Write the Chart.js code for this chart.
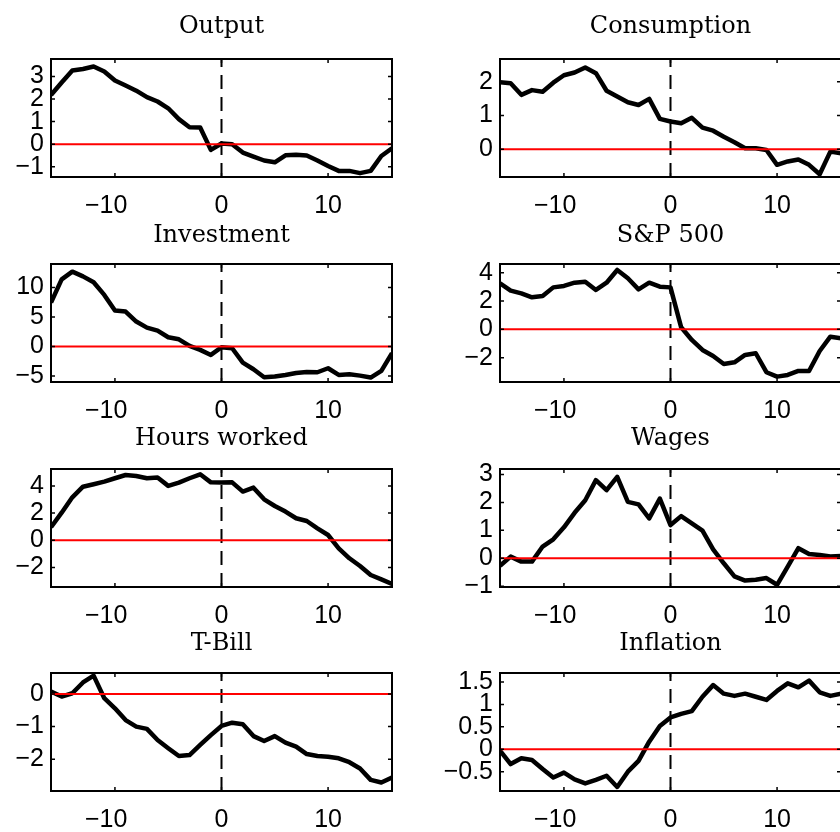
<!DOCTYPE html>
<html>
<head>
<meta charset="utf-8">
<script src="https://cdn.jsdelivr.net/npm/chart.js@4.4.1/dist/chart.umd.min.js"></script>
<style>
  body { margin: 0; width: 840px; height: 832px; overflow: hidden; background: #fff; position: relative; }
  canvas { position: absolute; }
</style>
</head>
<body>
<script>
// horizon (quarters) and x ticks
const lags = [-16, -15, -14, -13, -12, -11, -10, -9, -8, -7, -6, -5, -4, -3, -2, -1, 0,
  1, 2, 3, 4, 5, 6, 7, 8, 9, 10, 11, 12, 13, 14, 15, 16];
const xTicks = [-10, 0, 10];

// responses
const output = [2.18, 2.73, 3.26, 3.33, 3.44, 3.22, 2.82, 2.60, 2.37, 2.08, 1.89, 1.59, 1.11, 0.75, 0.74, -0.25, 0.03,
  0.0, -0.37, -0.55, -0.72, -0.80, -0.49, -0.47, -0.50, -0.72, -0.96, -1.18, -1.18, -1.28, -1.18, -0.52, -0.18];
const consumption = [1.98, 1.95, 1.61, 1.75, 1.70, 1.97, 2.19, 2.27, 2.42, 2.25, 1.73, 1.56, 1.39, 1.31, 1.49, 0.90, 0.82,
  0.77, 0.93, 0.64, 0.55, 0.37, 0.21, 0.03, 0.03, -0.02, -0.46, -0.36, -0.30, -0.46, -0.74, -0.07, -0.12];
const investment = [7.46, 11.4, 12.7, 11.9, 10.9, 8.76, 6.10, 5.93, 4.24, 3.22, 2.71, 1.58, 1.24, 0.11, -0.56, -1.41, -0.11,
  -0.28, -2.71, -3.84, -5.2, -5.08, -4.80, -4.46, -4.29, -4.35, -3.67, -4.80, -4.69, -4.92, -5.25, -4.12, -1.13];
const sp500 = [3.25, 2.73, 2.54, 2.26, 2.35, 2.96, 3.06, 3.29, 3.36, 2.78, 3.29, 4.19, 3.60, 2.82, 3.29, 3.01, 2.96,
  0.14, -0.75, -1.46, -1.88, -2.45, -2.33, -1.81, -1.69, -3.03, -3.34, -3.22, -2.94, -2.94, -1.53, -0.52, -0.64];
const hours = [0.96, 2.03, 3.16, 3.94, 4.12, 4.31, 4.56, 4.80, 4.73, 4.56, 4.61, 4.00, 4.24, 4.56, 4.85, 4.26, 4.24,
  4.26, 3.58, 3.87, 3.01, 2.52, 2.11, 1.62, 1.42, 0.88, 0.39, -0.59, -1.32, -1.89, -2.55, -2.87, -3.21];
const wages = [-0.27, 0.06, -0.12, -0.12, 0.42, 0.68, 1.11, 1.63, 2.08, 2.80, 2.44, 2.92, 2.02, 1.93, 1.43, 2.14, 1.19,
  1.51, 1.25, 0.99, 0.32, -0.18, -0.65, -0.80, -0.77, -0.71, -0.95, -0.30, 0.36, 0.15, 0.12, 0.06, 0.08];
const tbill = [0.07, -0.08, 0.02, 0.35, 0.56, -0.13, -0.44, -0.80, -1.00, -1.07, -1.41, -1.66, -1.90, -1.87, -1.56, -1.26, -0.98,
  -0.88, -0.93, -1.29, -1.44, -1.29, -1.49, -1.61, -1.84, -1.90, -1.92, -1.97, -2.09, -2.28, -2.63, -2.71, -2.56];
const inflation = [-0.03, -0.33, -0.20, -0.24, -0.44, -0.63, -0.52, -0.67, -0.76, -0.68, -0.59, -0.84, -0.50, -0.26, 0.17, 0.52, 0.71,
  0.79, 0.85, 1.17, 1.43, 1.24, 1.19, 1.24, 1.17, 1.10, 1.30, 1.47, 1.38, 1.53, 1.27, 1.19, 1.24];

// y ranges and y ticks per panel
const outputRange = [-1.45, 3.77],      outputTicks = [-1, 0, 1, 2, 3];
const consumptionRange = [-0.82, 2.67], consumptionTicks = [0, 1, 2];
const investmentRange = [-6, 14],       investmentTicks = [-5, 0, 5, 10];
const sp500Range = [-3.72, 4.61],       sp500Ticks = [-2, 0, 2, 4];
const hoursRange = [-3.43, 5.24],       hoursTicks = [-2, 0, 2, 4];
const wagesRange = [-1.03, 3.2],        wagesTicks = [-1, 0, 1, 2, 3];
const tbillRange = [-2.97, 0.64],       tbillTicks = [-2, -1, 0];
const inflationRange = [-0.93, 1.70],   inflationTicks = [-0.5, 0, 0.5, 1, 1.5];

const panels = [
  { title: 'Output', values: output, range: outputRange, ticks: outputTicks },
  { title: 'Consumption', values: consumption, range: consumptionRange, ticks: consumptionTicks },
  { title: 'Investment', values: investment, range: investmentRange, ticks: investmentTicks },
  { title: 'S&P 500', values: sp500, range: sp500Range, ticks: sp500Ticks },
  { title: 'Hours worked', values: hours, range: hoursRange, ticks: hoursTicks },
  { title: 'Wages', values: wages, range: wagesRange, ticks: wagesTicks },
  { title: 'T-Bill', values: tbill, range: tbillRange, ticks: tbillTicks },
  { title: 'Inflation', values: inflation, range: inflationRange, ticks: inflationTicks }
];

// layout (pixels)
const rowTops = [59, 264, 469, 673];
const titleGap = [26, 22, 24, 23];
const cols = [
  { left: 0, width: 420, axisW: 51, padRight: 28 },
  { left: 420, width: 424, axisW: 80, padRight: 3 }
];
const TITLE_SPACE = 59, PLOT_H = 118, XAXIS_H = 45;

const tickFont = { family: '"Liberation Sans", Arial, sans-serif', size: 25 };
const fmt = v => String(v).replace('-', '\u2212');
// matlab hangs the minus sign to the left of the centred digits
const fmtX = v => v < 0 ? fmt(v) + '\u2002\u2009' : fmt(v);

// box + inward ticks + title, matlab style
const frame = {
  id: 'frame',
  afterDatasetsDraw(chart, args, opts) {
    const { ctx, chartArea: a, scales } = chart;
    ctx.save();
    ctx.strokeStyle = '#000';
    ctx.lineWidth = 2;
    ctx.strokeRect(a.left, a.top, a.right - a.left, a.bottom - a.top);
    ctx.lineWidth = 1.5;
    ctx.beginPath();
    scales.x.ticks.forEach(t => {
      const px = scales.x.getPixelForValue(t.value);
      ctx.moveTo(px, a.bottom); ctx.lineTo(px, a.bottom - 4);
      ctx.moveTo(px, a.top); ctx.lineTo(px, a.top + 4);
    });
    scales.y.ticks.forEach(t => {
      const py = scales.y.getPixelForValue(t.value);
      ctx.moveTo(a.left, py); ctx.lineTo(a.left + 4, py);
      ctx.moveTo(a.right, py); ctx.lineTo(a.right - 4, py);
    });
    ctx.stroke();
    ctx.fillStyle = '#000';
    ctx.font = '24px "DejaVu Serif", serif';
    ctx.textAlign = 'center';
    ctx.textBaseline = 'alphabetic';
    ctx.fillText(opts.text, (a.left + a.right) / 2, a.top - opts.gap);
    ctx.restore();
  }
};

panels.forEach((p, i) => {
  const col = cols[i % 2];
  const row = Math.floor(i / 2);
  const top = rowTops[row] - TITLE_SPACE;
  const canvas = document.createElement('canvas');
  canvas.width = col.width;
  canvas.height = TITLE_SPACE + PLOT_H + XAXIS_H;
  canvas.style.left = col.left + 'px';
  canvas.style.top = top + 'px';
  document.body.appendChild(canvas);

  new Chart(canvas, {
    type: 'line',
    data: {
      datasets: [
        { // zero line
          data: [{ x: lags[0], y: 0 }, { x: lags[lags.length - 1], y: 0 }],
          borderColor: '#ff0000', borderWidth: 2, pointRadius: 0
        },
        {
          data: lags.map((x, k) => ({ x, y: p.values[k] })),
          borderColor: '#000', borderWidth: 4.5, pointRadius: 0,
          tension: 0, borderJoinStyle: 'round'
        },
        { // shock date
          data: [{ x: 0, y: p.range[0] }, { x: 0, y: p.range[1] }],
          borderColor: '#000', borderWidth: 2, borderDash: [14, 8], pointRadius: 0
        }
      ]
    },
    options: {
      responsive: false,
      animation: false,
      devicePixelRatio: 1,
      layout: { padding: { top: TITLE_SPACE, right: col.padRight, left: 0, bottom: 0 } },
      plugins: {
        legend: { display: false },
        tooltip: { enabled: false },
        frame: { text: p.title, gap: titleGap[row] }
      },
      scales: {
        x: {
          type: 'linear', min: lags[0], max: lags[lags.length - 1],
          grid: { display: false, drawTicks: false },
          border: { display: false },
          ticks: { font: tickFont, color: '#000', padding: 14, autoSkip: false, maxRotation: 0, callback: fmtX },
          afterBuildTicks: s => { s.ticks = xTicks.map(v => ({ value: v })); },
          afterFit: s => { s.height = XAXIS_H; }
        },
        y: {
          min: p.range[0], max: p.range[1],
          grid: { display: false, drawTicks: false },
          border: { display: false },
          ticks: { font: tickFont, color: '#000', padding: 7, autoSkip: false, callback: fmt },
          afterBuildTicks: s => { s.ticks = p.ticks.map(v => ({ value: v })); },
          afterFit: s => { s.width = col.axisW; }
        }
      }
    },
    plugins: [frame]
  });
});
</script>
</body>
</html>
